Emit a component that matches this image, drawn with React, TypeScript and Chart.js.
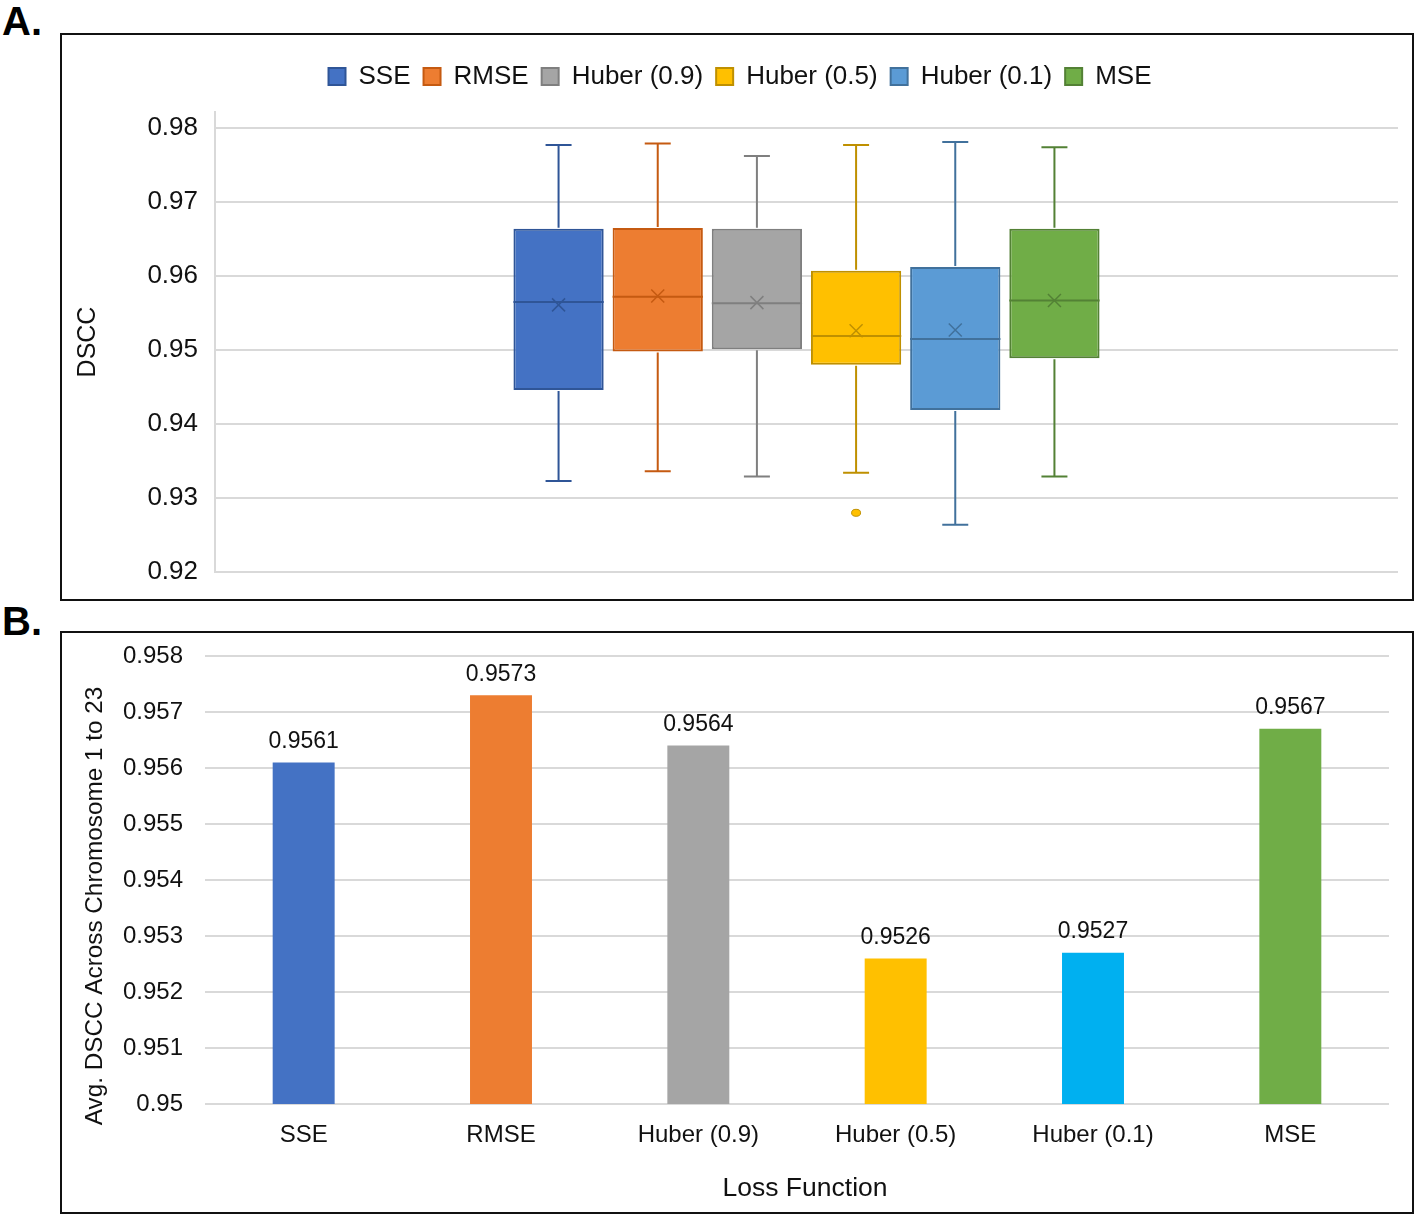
import React, { useEffect, useRef } from 'react';
import { Chart, registerables } from 'chart.js';

Chart.register(...registerables);

const FONT = '"Liberation Sans", Arial, Helvetica, sans-serif';
Chart.defaults.font.family = FONT;

// ---------- data ----------
const lossNames = ['SSE', 'RMSE', 'Huber (0.9)', 'Huber (0.5)', 'Huber (0.1)', 'MSE'];

// Panel A: box-and-whisker statistics (DSCC)
const boxMin = [0.9323, 0.9336, 0.9329, 0.9334, 0.9264, 0.9329];
const boxQ1 = [0.9446, 0.9498, 0.9501, 0.948, 0.9419, 0.9489];
const boxMedian = [0.9565, 0.9572, 0.9563, 0.9519, 0.9515, 0.9567];
const boxQ3 = [0.9664, 0.9665, 0.9664, 0.9607, 0.9612, 0.9664];
const boxMax = [0.9777, 0.9779, 0.9762, 0.9777, 0.9781, 0.9774];
const boxMean = [0.9561, 0.9573, 0.9564, 0.9526, 0.9527, 0.9567];
const boxOutliers: number[][] = [[], [], [], [0.928], [], []];
const yTicksA = [0.92, 0.93, 0.94, 0.95, 0.96, 0.97, 0.98];

// Panel B: average DSCC across chromosome 1 to 23
const avgDscc = [0.9561, 0.9573, 0.9564, 0.9526, 0.9527, 0.9567];
const yTicksB = [0.95, 0.951, 0.952, 0.953, 0.954, 0.955, 0.956, 0.957, 0.958];

// ---------- styles ----------
const fillColorsA = ['#4472C4', '#ED7D31', '#A5A5A5', '#FFC000', '#5B9BD5', '#70AD47'];
const lineColorsA = ['#2F5597', '#C55A11', '#7F7F7F', '#BF9000', '#41719C', '#538135'];
const barColorsB = ['#4472C4', '#ED7D31', '#A5A5A5', '#FFC000', '#00B0F0', '#70AD47'];
const TEXT = '#111';
const GRID = '#d9d9d9';

const boxWhiskerPlugin = {
  id: 'boxWhisker',
  afterLayout(chart: any) {
    if (chart.legend) {
      chart.legend.top -= 12.5;
      chart.legend.bottom -= 12.5;
    }
  },
  afterDatasetsDraw(chart: any) {
    const ctx = chart.ctx;
    const y = chart.scales.y;
    chart.data.datasets.forEach((_ds: any, i: number) => {
      const el = chart.getDatasetMeta(i).data[0];
      if (!el) return;
      const x = el.x;
      const w = el.width;
      const cap = 13;
      const pMin = y.getPixelForValue(boxMin[i]);
      const pQ1 = y.getPixelForValue(boxQ1[i]);
      const pMed = y.getPixelForValue(boxMedian[i]);
      const pQ3 = y.getPixelForValue(boxQ3[i]);
      const pMax = y.getPixelForValue(boxMax[i]);
      const pMean = y.getPixelForValue(boxMean[i]);
      ctx.save();
      ctx.strokeStyle = lineColorsA[i];
      ctx.lineWidth = 2;
      ctx.beginPath();
      ctx.moveTo(x, pQ3 - 1);
      ctx.lineTo(x, pMax);
      ctx.moveTo(x - cap, pMax);
      ctx.lineTo(x + cap, pMax);
      ctx.moveTo(x, pQ1 + 1);
      ctx.lineTo(x, pMin);
      ctx.moveTo(x - cap, pMin);
      ctx.lineTo(x + cap, pMin);
      ctx.stroke();
      // median
      ctx.beginPath();
      ctx.moveTo(x - w / 2, pMed);
      ctx.lineTo(x + w / 2, pMed);
      ctx.stroke();
      // mean marker
      const m = 6.5;
      ctx.lineWidth = 1.5;
      ctx.beginPath();
      ctx.moveTo(x - m, pMean - m);
      ctx.lineTo(x + m, pMean + m);
      ctx.moveTo(x + m, pMean - m);
      ctx.lineTo(x - m, pMean + m);
      ctx.stroke();
      // outliers
      boxOutliers[i].forEach((v) => {
        ctx.beginPath();
        ctx.ellipse(x, y.getPixelForValue(v), 4.5, 3.5, 0, 0, Math.PI * 2);
        ctx.fillStyle = fillColorsA[i];
        ctx.fill();
        ctx.lineWidth = 1;
        ctx.stroke();
      });
      ctx.restore();
    });
  },
};

const barLabelPlugin = {
  id: 'barLabels',
  afterDatasetsDraw(chart: any) {
    const ctx = chart.ctx;
    const meta = chart.getDatasetMeta(0);
    ctx.save();
    ctx.font = `23px ${FONT}`;
    ctx.fillStyle = TEXT;
    ctx.textAlign = 'center';
    ctx.textBaseline = 'middle';
    meta.data.forEach((el: any, i: number) => {
      ctx.fillText(avgDscc[i].toFixed(4), el.x, el.y - 21);
    });
    ctx.restore();
  },
};

const axisTitlesBPlugin = {
  id: 'axisTitlesB',
  afterDraw(chart: any) {
    const ctx = chart.ctx;
    const a = chart.chartArea;
    ctx.save();
    ctx.fillStyle = TEXT;
    ctx.textAlign = 'center';
    ctx.textBaseline = 'middle';
    ctx.font = `26.5px ${FONT}`;
    ctx.fillText('Loss Function', (a.left + a.right) / 2 + 8, chart.height - 23);
    ctx.font = `24.3px ${FONT}`;
    ctx.translate(33, (a.top + a.bottom) / 2 + 26);
    ctx.rotate(-Math.PI / 2);
    ctx.fillText('Avg. DSCC Across Chromosome 1 to 23', 0, 0);
    ctx.restore();
  },
};

function BoxChart() {
  const ref = useRef<HTMLCanvasElement>(null);
  useEffect(() => {
    if (!ref.current) return;
    const chart = new Chart(ref.current, {
      type: 'bar',
      data: {
        labels: [''],
        datasets: lossNames.map((name, i) => ({
          label: name,
          data: [[boxQ1[i], boxQ3[i]]] as any,
          backgroundColor: fillColorsA[i],
          borderColor: lineColorsA[i],
          borderWidth: 2,
          borderSkipped: false,
          barPercentage: 0.91,
          categoryPercentage: 0.503,
        })),
      },
      options: {
        responsive: false,
        animation: false,
        layout: { padding: { top: 0.5, right: 14, bottom: 27, left: 20 } },
        plugins: {
          legend: {
            position: 'top',
            align: 'center',
            labels: {
              font: { family: FONT, size: 26 },
              color: TEXT,
              boxWidth: 17,
              boxHeight: 17,
              padding: 13,
            },
          },
          tooltip: { enabled: false },
        },
        scales: {
          x: {
            display: false,
            afterFit(s: any) {
              s.paddingLeft = 0;
              s.paddingRight = 0;
            },
          },
          y: {
            min: 0.92,
            max: 0.98216,
            ticks: {
              padding: 17,
              font: { family: FONT, size: 26 },
              color: TEXT,
              callback: (v: any) => Number(v).toFixed(2),
            },
            afterBuildTicks(s: any) {
              s.ticks = yTicksA.map((v) => ({ value: v }));
            },
            grid: { color: GRID, lineWidth: 2, drawTicks: false },
            border: { display: true, color: GRID, width: 2 },
            title: {
              display: true,
              text: 'DSCC',
              font: { family: FONT, size: 25 },
              color: TEXT,
              padding: { top: -9, bottom: 0 },
            },
            afterFit(s: any) {
              s.width = 133;
              s.paddingTop = 77;
              s.paddingBottom = 0;
            },
          },
        },
      } as any,
      plugins: [boxWhiskerPlugin],
    });
    return () => chart.destroy();
  }, []);
  return <canvas ref={ref} width={1350} height={564} style={{ display: 'block' }} />;
}

function BarChart() {
  const ref = useRef<HTMLCanvasElement>(null);
  useEffect(() => {
    if (!ref.current) return;
    const chart = new Chart(ref.current, {
      type: 'bar',
      data: {
        labels: lossNames,
        datasets: [
          {
            label: 'Avg. DSCC',
            data: avgDscc,
            backgroundColor: barColorsB,
            borderWidth: 0,
            barPercentage: 0.314,
            categoryPercentage: 1,
          },
        ],
      },
      options: {
        responsive: false,
        animation: false,
        layout: { padding: { top: 0, right: 23, bottom: 0, left: 0 } },
        plugins: { legend: { display: false }, tooltip: { enabled: false } },
        scales: {
          x: {
            grid: { display: false },
            border: { display: false },
            ticks: { font: { family: FONT, size: 24 }, color: TEXT, padding: 8.6 },
            afterFit(s: any) {
              s.height = 108;
              s.paddingLeft = 0;
              s.paddingRight = 0;
            },
          },
          y: {
            min: 0.95,
            max: 0.958,
            ticks: {
              padding: 22,
              font: { family: FONT, size: 24 },
              color: TEXT,
              callback: (v: any) => String(parseFloat(Number(v).toFixed(3))),
            },
            afterBuildTicks(s: any) {
              s.ticks = yTicksB.map((v) => ({ value: v }));
            },
            grid: { color: GRID, lineWidth: 2, drawTicks: false },
            border: { display: false },
            afterFit(s: any) {
              s.width = 143;
              s.paddingTop = 23;
              s.paddingBottom = 0;
            },
          },
        },
      } as any,
      plugins: [barLabelPlugin, axisTitlesBPlugin],
    });
    return () => chart.destroy();
  }, []);
  return <canvas ref={ref} width={1350} height={579} style={{ display: 'block' }} />;
}

const panelLabel: React.CSSProperties = {
  position: 'absolute',
  left: 2,
  fontFamily: FONT,
  fontWeight: 'bold',
  fontSize: 40,
  lineHeight: '40px',
  color: '#000',
};

export default function App() {
  return (
    <div style={{ position: 'absolute', left: 0, top: 0, width: 1416, height: 1216, background: '#fff' }}>
      <div style={{ ...panelLabel, top: 1 }}>A.</div>
      <div
        style={{
          position: 'absolute',
          left: 60,
          top: 33,
          width: 1354,
          height: 568,
          border: '2px solid #111',
          boxSizing: 'border-box',
        }}
      >
        <BoxChart />
      </div>
      <div style={{ ...panelLabel, top: 601 }}>B.</div>
      <div
        style={{
          position: 'absolute',
          left: 60,
          top: 631,
          width: 1354,
          height: 583,
          border: '2px solid #111',
          boxSizing: 'border-box',
        }}
      >
        <BarChart />
      </div>
    </div>
  );
}
